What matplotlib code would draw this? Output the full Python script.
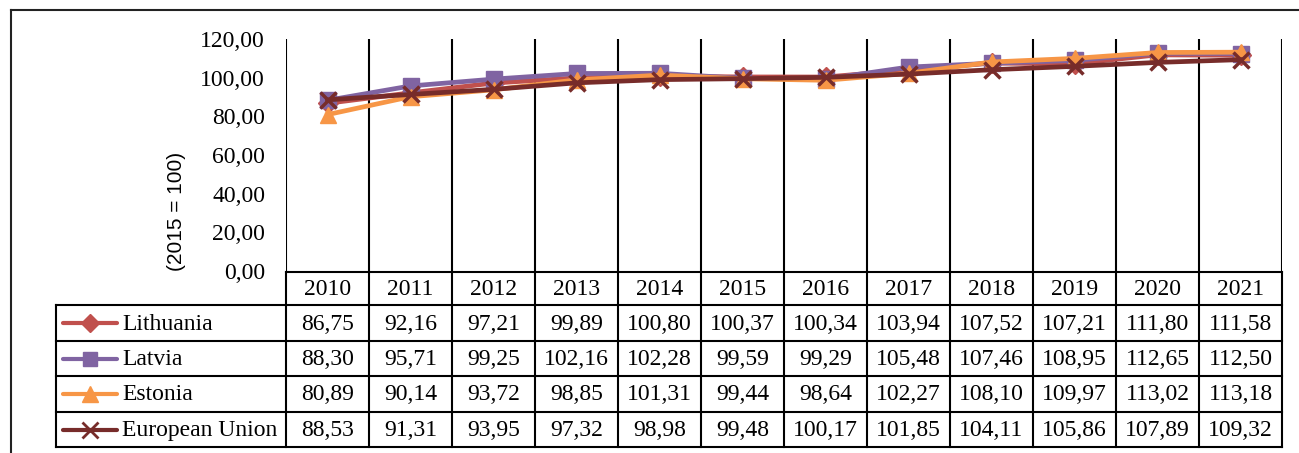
import matplotlib
matplotlib.use("Agg")
import matplotlib.pyplot as plt
from matplotlib.lines import Line2D

plt.rcParams["font.family"] = ["Liberation Serif", "DejaVu Serif"]

years = ["2010", "2011", "2012", "2013", "2014", "2015",
         "2016", "2017", "2018", "2019", "2020", "2021"]

lithuania = [86.75, 92.16, 97.21, 99.89, 100.80, 100.37, 100.34, 103.94, 107.52, 107.21, 111.80, 111.58]
latvia = [88.30, 95.71, 99.25, 102.16, 102.28, 99.59, 99.29, 105.48, 107.46, 108.95, 112.65, 112.50]
estonia = [80.89, 90.14, 93.72, 98.85, 101.31, 99.44, 98.64, 102.27, 108.10, 109.97, 113.02, 113.18]
eu = [88.53, 91.31, 93.95, 97.32, 98.98, 99.48, 100.17, 101.85, 104.11, 105.86, 107.89, 109.32]

series_names = ["Lithuania", "Latvia", "Estonia", "European Union"]
series_values = [lithuania, latvia, estonia, eu]
colors = ["#C0504D", "#8064A2", "#F79646", "#772C2A"]
markers = ["D", "s", "^", "x"]
marker_sizes = [10, 11, 12, 12]

y_ticks = [0, 20, 40, 60, 80, 100, 120]


def fmt(v):
    return f"{v:.2f}".replace(".", ",")


W, H = 1299, 453
fig = plt.figure(figsize=(W / 100, H / 100), dpi=100)

# pixel layout (top-down pixel coordinates)
plot_left, plot_right = 286, 1282
plot_top, plot_bottom = 39, 271
legend_left = 56
row_edges = [272, 305, 341, 376, 412, 447]
font_size = 17


def fx(px):
    return px / W


def fy(py):
    return 1 - py / H


# main line chart
ax = fig.add_axes([fx(plot_left), fy(plot_bottom),
                   fx(plot_right) - fx(plot_left), fy(plot_top) - fy(plot_bottom)])
x = list(range(len(years)))
for name, vals, c, m, ms in zip(series_names, series_values, colors, markers, marker_sizes):
    ax.plot(x, vals, color=c, lw=3.4, marker=m, markersize=ms,
            markeredgewidth=2.5 if m == "x" else 1, markeredgecolor=c,
            solid_joinstyle="round", zorder=3)

ax.set_xlim(-0.5, len(years) - 0.5)
ax.set_ylim(0, 120)
ax.set_yticks(y_ticks)
ax.set_yticklabels([fmt(t) for t in y_ticks], fontsize=font_size)
ax.tick_params(axis="y", length=0, pad=15)
ax.set_xticks([])
for b in [i - 0.5 for i in range(len(years) + 1)]:
    ax.axvline(b, color="black", lw=1.5, zorder=1)
for s in ["top", "right", "left", "bottom"]:
    ax.spines[s].set_visible(False)

fig.text(fx(177), fy(211), "(2015 = 100)", rotation=90, ha="center", va="center",
         fontsize=15, family=["Liberation Sans", "DejaVu Sans"])

# data table
tab = fig.add_axes([0, 0, 1, 1])
tab.set_xlim(0, W)
tab.set_ylim(H, 0)
tab.axis("off")

cw = (plot_right - plot_left) / len(years)
lw_t = 1.5
tab.plot([plot_left, plot_right], [row_edges[0]] * 2, color="black", lw=lw_t)
for y in row_edges[1:]:
    tab.plot([legend_left, plot_right], [y, y], color="black", lw=lw_t)
tab.plot([legend_left, legend_left], [row_edges[1], row_edges[-1]], color="black", lw=lw_t)
for i in range(len(years) + 1):
    xb = plot_left + i * cw
    tab.plot([xb, xb], [row_edges[0], row_edges[-1]], color="black", lw=lw_t)

for i, yr in enumerate(years):
    cx = plot_left + (i + 0.5) * cw
    tab.text(cx, (row_edges[0] + row_edges[1]) / 2 + 1, yr, ha="center", va="center", fontsize=font_size)
    for r, vals in enumerate(series_values):
        cy = (row_edges[r + 1] + row_edges[r + 2]) / 2 + 1
        tab.text(cx, cy, fmt(vals[i]), ha="center", va="center", fontsize=font_size)

for r, (name, c, m, ms) in enumerate(zip(series_names, colors, markers, marker_sizes)):
    cy = (row_edges[r + 1] + row_edges[r + 2]) / 2
    tab.plot([63, 117], [cy, cy], color=c, lw=3, solid_capstyle="round")
    tab.plot([90], [cy], color=c, marker=m, markersize=ms - 1,
             markeredgewidth=2 if m == "x" else 1, markeredgecolor=c)
    tab.text(122, cy + 1, name, ha="left", va="center", fontsize=font_size)

# outer chart frame
fig.add_artist(Line2D([fx(11), fx(11)], [fy(10), 0], color="#222222", lw=1.5))
fig.add_artist(Line2D([fx(11), 1], [fy(10), fy(10)], color="#222222", lw=1.5))

fig.savefig("out.png", dpi=100)
